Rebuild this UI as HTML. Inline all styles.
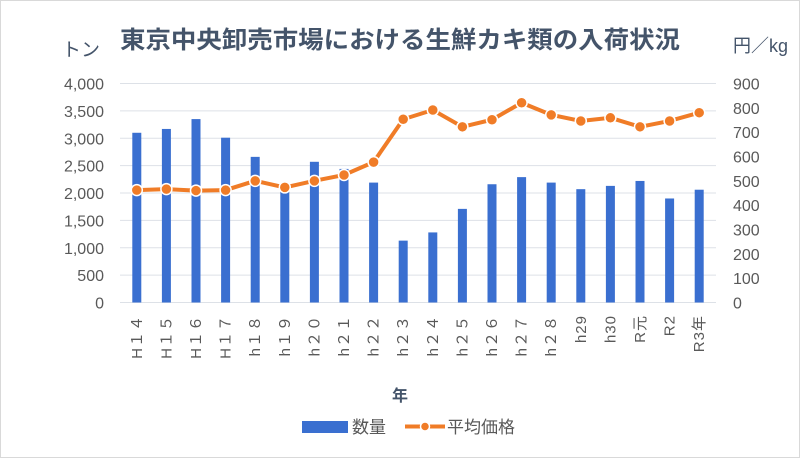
<!DOCTYPE html>
<html><head><meta charset="utf-8">
<style>
body{margin:0;background:#fff;}
#wrap{position:relative;width:800px;height:458px;background:#fff;overflow:hidden;font-family:"Liberation Sans","Noto Sans CJK JP",sans-serif;}
#frame{position:absolute;left:0;top:0;width:798px;height:456px;border:1px solid #d9d9d9;}
</style></head>
<body>
<div id="wrap">
<div id="frame"></div>
<svg id="chart" width="800" height="458" style="position:absolute;left:0;top:0">
<text x="400" y="48" text-anchor="middle" font-size="24" font-weight="bold" fill="#44546a" textLength="560" lengthAdjust="spacingAndGlyphs">東京中央卸売市場における生鮮カキ類の入荷状況</text>
<text x="62" y="56" font-size="19" fill="#44546a">トン</text>
<text x="733" y="52" font-size="18" fill="#44546a">円／kg</text>
<text x="400" y="401" text-anchor="middle" font-size="16" font-weight="bold" fill="#44546a">年</text>
<g id="grid"></g><g id="bars"></g><g id="line"></g><g id="labels"></g>
<g>
<rect x="302" y="421" width="46" height="12" fill="#3a6fd0"/>
<text x="352" y="433" font-size="17" fill="#595959">数量</text>
<line x1="405" y1="426.5" x2="445" y2="426.5" stroke="#f07c27" stroke-width="4"/>
<circle cx="425" cy="426.5" r="4.5" fill="#f07c27" stroke="#fff" stroke-width="1.5"/>
<text x="447" y="433" font-size="17" fill="#595959">平均価格</text>
</g>
</svg>
</div>
<script>
const categories=["H１４","H１５","H１６","H１７","h１８","h１９","h２０","h２１","h２２","h２３","h２４","h２５","h２６","h２７","h２８","h29","h30","R元","R2","R3年"];
const quantity=[3100,3170,3350,3010,2660,2090,2570,2440,2190,1130,1280,1710,2160,2290,2190,2070,2130,2220,1900,2060];
const price=[462,466,460,462,500,473,500,524,577,753,791,722,751,821,771,746,759,722,746,780];
const leftTicks=["0","500","1,000","1,500","2,000","2,500","3,000","3,500","4,000"];
const rightTicks=["0","100","200","300","400","500","600","700","800","900"];
const NS="http://www.w3.org/2000/svg";
const x0=122,step=29.6,yTop=83.5,yBot=302.5;
const xC=i=>x0+step*(i+0.5);
const yL=v=>yBot-(v/4000)*(yBot-yTop);
const yR=v=>yBot-(v/900)*(yBot-yTop);
function mk(tag,attrs,parent){const e=document.createElementNS(NS,tag);for(const k in attrs)e.setAttribute(k,attrs[k]);document.getElementById(parent).appendChild(e);return e;}
leftTicks.forEach((t,i)=>{const y=yL(i*500);
 const g=mk("line",{x1:120,x2:716,y1:y,y2:y,stroke:"#dde1e7","stroke-width":1},"grid");
 
 
 const tx=mk("text",{x:104,y:y+6,"text-anchor":"end","font-size":16,fill:"#595959"},"grid");tx.textContent=t;
 
 });
rightTicks.forEach((t,i)=>{const y=yR(i*100);
 const tx=mk("text",{x:733,y:y+6,"font-size":16,fill:"#595959"},"grid");tx.textContent=t;
 
 });
quantity.forEach((v,i)=>{const r=mk("rect",{x:xC(i)-4.5,y:yL(v),width:9,height:yBot-yL(v),fill:"#3a6fd0"},"bars");
 
 });
const pl=mk("polyline",{points:price.map((v,i)=>xC(i)+","+yR(v)).join(" "),fill:"none",stroke:"#f07c27","stroke-width":4},"line");


price.forEach((v,i)=>{const c=mk("circle",{cx:xC(i),cy:yR(v),r:5.5,fill:"#f07c27",stroke:"#fff","stroke-width":1.5},"line");
 
 });
categories.forEach((t,i)=>{const x=xC(i)+5;
 const tx=mk("text",{x:x,y:315,"font-size":15,fill:"#595959","text-anchor":"end","letter-spacing":"1",transform:"rotate(-90 "+x+" 315)"},"labels");tx.textContent=t;
 
 });
</script>
</body></html>
